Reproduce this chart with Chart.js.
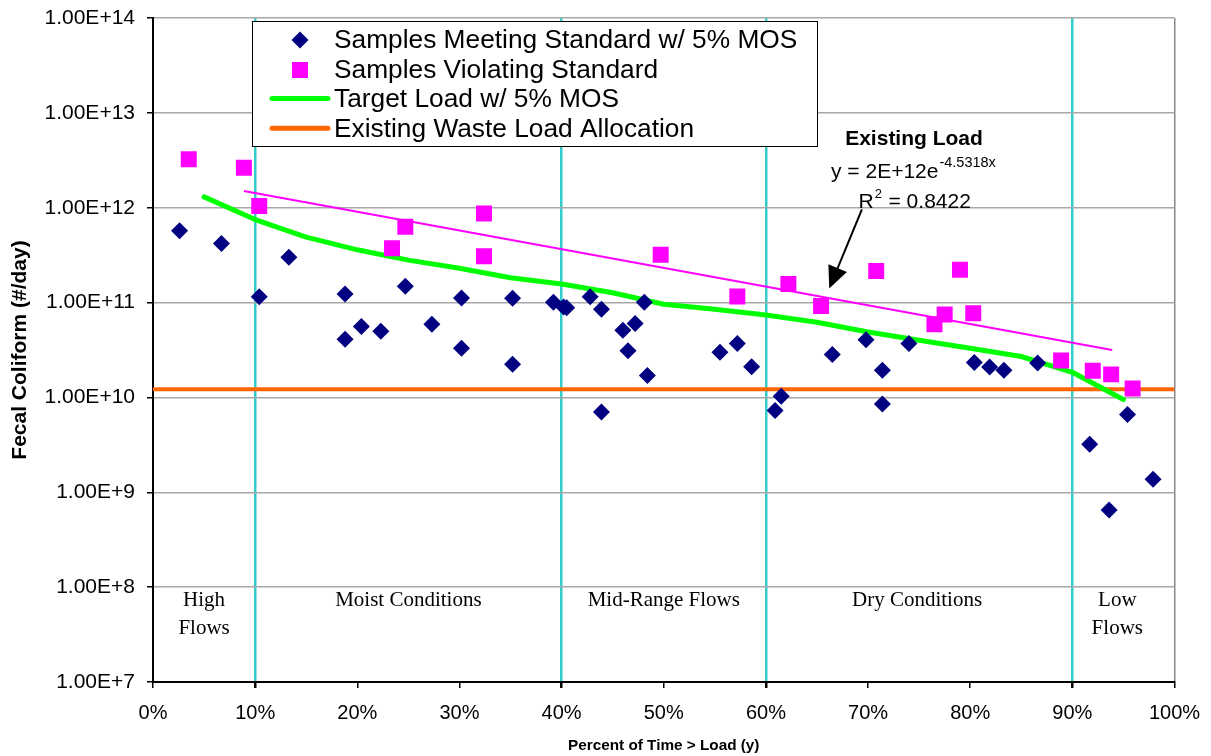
<!DOCTYPE html>
<html>
<head>
<meta charset="utf-8">
<script src="https://cdn.jsdelivr.net/npm/chart.js@4.4.0/dist/chart.umd.min.js"></script>
<style>
  html, body { margin: 0; padding: 0; background: #fff; }
  #wrap { width: 1211px; height: 756px; position: relative; }
</style>
</head>
<body>
<div id="wrap"><canvas id="loadChart"></canvas></div>
<script>
// samples meeting standard (percent of time, load #/day)
var meetX = [2.6, 6.7, 10.4, 13.3, 18.8, 18.8, 20.4, 22.3, 24.7, 27.3, 30.2, 30.2, 35.2, 35.2,
  39.2, 40.2, 40.5, 42.8, 43.9, 43.9, 46.0, 46.5, 47.2, 48.1, 48.4, 55.5, 57.2, 58.6, 60.9,
  61.5, 66.5, 69.8, 71.4, 71.4, 74.0, 80.4, 81.9, 83.3, 86.6, 91.7, 93.6, 95.4, 97.9];
var meetY = [5.7e11, 4.2e11, 1.15e11, 3.0e11, 1.23e11, 4.1e10, 5.6e10, 5.0e10, 1.49e11, 5.9e10, 1.12e11, 3.3e10, 1.11e11, 2.24e10,
  1.01e11, 9.0e10, 8.8e10, 1.15e11, 8.5e10, 7.0e9, 5.1e10, 3.1e10, 6.0e10, 1.01e11, 1.7e10, 3.0e10, 3.7e10, 2.1e10, 7.3e9,
  1.03e10, 2.84e10, 4.05e10, 1.94e10, 8.5e9, 3.7e10, 2.34e10, 2.09e10, 1.94e10, 2.3e10, 3.2e9, 6.5e8, 6.6e9, 1.37e9];

// samples violating standard
var violX = [3.5, 8.9, 10.4, 23.4, 24.7, 32.4, 32.4, 49.7, 57.2, 62.2, 65.4, 70.8, 76.5, 77.5, 79.0, 80.3, 88.9, 92.0, 93.8, 95.9];
var violY = [3.24e12, 2.64e12, 1.04e12, 3.73e11, 6.3e11, 8.7e11, 3.07e11, 3.19e11, 1.16e11, 1.57e11, 9.2e10, 2.15e11,
  5.9e10, 7.5e10, 2.22e11, 7.7e10, 2.45e10, 1.91e10, 1.75e10, 1.24e10];

// target load w/ 5% MOS
var targetX = [5, 10, 15, 20, 25, 30, 35, 40, 45, 50, 55, 60, 65, 70, 75, 80, 85, 90, 95];
var targetY = [1.3e12, 7.5e11, 4.9e11, 3.6e11, 2.8e11, 2.3e11, 1.83e11, 1.57e11, 1.27e11, 9.6e10,
  8.5e10, 7.4e10, 6.2e10, 4.9e10, 4.0e10, 3.3e10, 2.7e10, 1.84e10, 9.5e9];

// existing waste load allocation
var wlaX = [0, 100];
var wlaY = [1.22e10, 1.22e10];

// existing load trendline end points
var trendX = [8.9, 93.9];
var trendY = [1.5e12, 3.16e10];

var zoneBreaks = [10, 40, 60, 90];
var zoneLabels = [["High", "Flows"], ["Moist Conditions"], ["Mid-Range Flows"], ["Dry Conditions"], ["Low", "Flows"]];
var zoneCenters = [5, 25, 50, 74.8, 94.4];
var zoneLabelY = 7.15e7;

var yTicks = [1e7, 1e8, 1e9, 1e10, 1e11, 1e12, 1e13, 1e14];

var legendItems = ["Samples Meeting Standard w/ 5% MOS", "Samples Violating Standard",
  "Target Load w/ 5% MOS", "Existing Waste Load Allocation"];

function pts(xs, ys) {
  return xs.map(function (x, i) { return { x: x, y: ys[i] }; });
}

var NAVY = '#000080', PINK = '#FF00FF', GREEN = '#00FF00', ORANGE = '#FF6600', CYAN = '#33CCCC';
var SANS = '"Liberation Sans", Arial, sans-serif';
var SERIF = '"Liberation Serif", "Times New Roman", serif';

var overlay = {
  id: 'overlay',
  afterDatasetsDraw: function (chart) {
    var ctx = chart.ctx, xs = chart.scales.x, ys = chart.scales.y;
    ctx.save();
    ctx.fillStyle = '#000';

    // flow zone labels
    ctx.font = '21px ' + SERIF;
    ctx.textAlign = 'center';
    ctx.textBaseline = 'middle';
    zoneLabels.forEach(function (lines, i) {
      var px = xs.getPixelForValue(zoneCenters[i]);
      var py = ys.getPixelForValue(zoneLabelY);
      lines.forEach(function (t, j) { ctx.fillText(t, px, py + j * 27.6); });
    });

    // trendline annotation
    var ax = xs.getPixelForValue(74.5), ay = ys.getPixelForValue(5.27e12);
    ctx.font = 'bold 21px ' + SANS;
    ctx.fillText('Existing Load', ax, ay);
    ctx.textAlign = 'left';
    ctx.font = '21px ' + SANS;
    var eq = 'y = 2E+12e';
    var ex = ax - 83;
    ctx.fillText(eq, ex, ay + 32.5);
    var w = ctx.measureText(eq).width;
    ctx.font = '14.5px ' + SANS;
    ctx.fillText('-4.5318x', ex + w + 1, ay + 24);
    ctx.font = '21px ' + SANS;
    var rx = ax - 55.5;
    ctx.fillText('R', rx, ay + 62.5);
    var rw = ctx.measureText('R').width;
    ctx.font = '13px ' + SANS;
    ctx.fillText('2', rx + rw + 1, ay + 55);
    ctx.font = '21px ' + SANS;
    ctx.fillText(' = 0.8422', rx + rw + 9, ay + 62.5);

    // arrow to trendline
    var x1 = xs.getPixelForValue(69.4), y1 = ys.getPixelForValue(9.6e11);
    var x2 = xs.getPixelForValue(66.2), y2 = ys.getPixelForValue(1.41e11);
    var ang = Math.atan2(y2 - y1, x2 - x1);
    ctx.strokeStyle = '#000';
    ctx.lineWidth = 2;
    ctx.beginPath();
    ctx.moveTo(x1, y1);
    ctx.lineTo(x2 - 18 * Math.cos(ang), y2 - 18 * Math.sin(ang));
    ctx.stroke();
    ctx.beginPath();
    ctx.moveTo(x2, y2);
    ctx.lineTo(x2 - 22 * Math.cos(ang) + 10 * Math.sin(ang), y2 - 22 * Math.sin(ang) - 10 * Math.cos(ang));
    ctx.lineTo(x2 - 22 * Math.cos(ang) - 10 * Math.sin(ang), y2 - 22 * Math.sin(ang) + 10 * Math.cos(ang));
    ctx.closePath();
    ctx.fill();

    // legend box
    var lx = 252.5, ly = 21.5, lw = 565, lh = 125;
    ctx.fillStyle = '#fff';
    ctx.fillRect(lx, ly, lw, lh);
    ctx.strokeStyle = '#000';
    ctx.lineWidth = 1;
    ctx.strokeRect(lx, ly, lw, lh);
    var rows = [40, 70, 98.5, 128.3];
    var mx = 300;
    // diamond
    ctx.fillStyle = NAVY;
    ctx.beginPath();
    ctx.moveTo(mx, rows[0] - 8.5); ctx.lineTo(mx + 8.5, rows[0]);
    ctx.lineTo(mx, rows[0] + 8.5); ctx.lineTo(mx - 8.5, rows[0]);
    ctx.closePath(); ctx.fill();
    // square
    ctx.fillStyle = PINK;
    ctx.fillRect(mx - 8, rows[1] - 8, 16, 16);
    // lines
    ctx.lineCap = 'round';
    ctx.lineWidth = 5;
    ctx.strokeStyle = GREEN;
    ctx.beginPath(); ctx.moveTo(272, rows[2]); ctx.lineTo(328, rows[2]); ctx.stroke();
    ctx.strokeStyle = ORANGE;
    ctx.beginPath(); ctx.moveTo(272, rows[3]); ctx.lineTo(328, rows[3]); ctx.stroke();
    ctx.fillStyle = '#000';
    ctx.font = '26.3px ' + SANS;
    ctx.textAlign = 'left';
    ctx.textBaseline = 'middle';
    legendItems.forEach(function (t, i) { ctx.fillText(t, 334, rows[i] + 1); });
    ctx.restore();
  }
};

new Chart(document.getElementById('loadChart'), {
  type: 'scatter',
  data: {
    datasets: [
      {
        label: legendItems[0],
        data: pts(meetX, meetY),
        pointStyle: 'rectRot',
        pointRadius: 8.5,
        backgroundColor: NAVY,
        borderColor: NAVY,
        borderWidth: 0
      },
      {
        label: legendItems[1],
        data: pts(violX, violY),
        pointStyle: 'rect',
        pointRadius: 11.3,
        backgroundColor: PINK,
        borderColor: PINK,
        borderWidth: 0
      },
      {
        label: 'Existing Load',
        data: pts(trendX, trendY),
        showLine: true,
        pointRadius: 0,
        borderColor: PINK,
        borderWidth: 2
      },
      {
        label: legendItems[2],
        data: pts(targetX, targetY),
        showLine: true,
        pointRadius: 0,
        borderColor: GREEN,
        borderWidth: 5,
        borderCapStyle: 'round',
        borderJoinStyle: 'round'
      },
      {
        label: legendItems[3],
        data: pts(wlaX, wlaY),
        showLine: true,
        pointRadius: 0,
        borderColor: ORANGE,
        borderWidth: 4
      }
    ]
  },
  options: {
    responsive: true,
    maintainAspectRatio: false,
    animation: false,
    layout: { padding: { top: 18, right: 36.5, left: 0, bottom: 0 } },
    plugins: {
      legend: { display: false },
      tooltip: { enabled: false }
    },
    scales: {
      x: {
        type: 'linear',
        min: 0,
        max: 100,
        ticks: {
          stepSize: 10,
          maxRotation: 0,
          padding: 13,
          color: '#000',
          font: { family: SANS, size: 20 },
          callback: function (v) { return v + '%'; }
        },
        grid: {
          color: function (c) {
            var v = c.tick && c.tick.value;
            if (zoneBreaks.indexOf(v) >= 0) return CYAN;
            if (v === 100) return '#888';
            return 'rgba(0,0,0,0)';
          },
          lineWidth: function (c) {
            var v = c.tick && c.tick.value;
            return zoneBreaks.indexOf(v) >= 0 ? 2.5 : 1.5;
          },
          tickColor: '#000',
          tickLength: 6
        },
        border: { color: '#000', width: 2 },
        title: {
          display: true,
          text: 'Percent of Time > Load (y)',
          color: '#000',
          font: { family: SANS, size: 15.3, weight: 'bold' },
          padding: { top: 0, bottom: 1 }
        },
        afterFit: function (s) {
          s.height = 74;
          s.paddingLeft = 0;
          s.paddingRight = 0;
        }
      },
      y: {
        type: 'logarithmic',
        min: 1e7,
        max: 1e14,
        afterBuildTicks: function (s) {
          s.ticks = yTicks.map(function (v) { return { value: v }; });
        },
        ticks: {
          padding: 12,
          color: '#000',
          font: { family: SANS, size: 21 },
          callback: function (v) { return Number(v).toExponential(2).toUpperCase(); }
        },
        grid: {
          color: '#A8A8A8',
          lineWidth: 1.5,
          tickColor: '#000',
          tickLength: 6
        },
        border: { color: '#000', width: 2 },
        title: {
          display: true,
          text: 'Fecal Coliform (#/day)',
          color: '#000',
          font: { family: SANS, size: 21, weight: 'bold' },
          padding: { top: 8, bottom: 0 }
        },
        afterFit: function (s) {
          s.width = 153;
          s.paddingTop = 0;
          s.paddingBottom = 0;
        }
      }
    }
  },
  plugins: [overlay]
});
</script>
</body>
</html>
